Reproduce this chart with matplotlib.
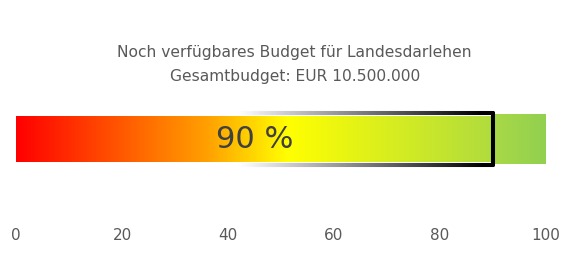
import numpy as np
import matplotlib
matplotlib.use("Agg")
import matplotlib.pyplot as plt
from matplotlib.colors import LinearSegmentedColormap
from matplotlib.collections import LineCollection

# Data
title_lines = ["Noch verfügbares Budget für Landesdarlehen", "Gesamtbudget: EUR 10.500.000"]
total_value = 100
current_value = 90
value_label = "90 %"
xticks = [0, 20, 40, 60, 80, 100]

W, H = 569, 258
fig = plt.figure(figsize=(W / 100, H / 100), dpi=100)
ax_left, ax_right = 16, 546
ax_bottom_px = 222
ax = fig.add_axes([ax_left / W, (H - ax_bottom_px) / H, (ax_right - ax_left) / W, ax_bottom_px / H])
ax.set_xlim(0, total_value)
ax.set_ylim(ax_bottom_px, 0)

# remaining (total - current) bar, light green gradient
gcmap = LinearSegmentedColormap.from_list("gr", ["#A9D947", "#92D050"])
grad = np.linspace(0, 1, 128).reshape(1, -1)
ax.imshow(grad, cmap=gcmap, extent=[current_value, total_value, 164, 114], aspect="auto",
          zorder=1, interpolation="bilinear")

# gradient bar for current value
stops = [(0.0, "#FF0000"), (0.40, "#FFA000"), (0.57, "#FFFF00"), (1.0, "#B0DC3E")]
cmap = LinearSegmentedColormap.from_list("g", stops)
grad = np.linspace(0, 1, 512).reshape(1, -1)
ax.imshow(grad, cmap=cmap, extent=[0, current_value, 162, 116], aspect="auto", zorder=2,
          interpolation="bilinear")

# gradient border
y_top, y_bot = 113.3, 164.7
xs = np.linspace(0, current_value, 400)
path = [(x, y_top) for x in xs] + [(current_value, y) for y in np.linspace(y_top, y_bot, 40)] + \
       [(x, y_bot) for x in xs[::-1]]
segs = [[path[i], path[i + 1]] for i in range(len(path) - 1)]
cols = []
for (p0, p1) in segs:
    xm = (p0[0] + p1[0]) / 2
    t = np.clip((xm - 42) / (88 - 42), 0, 1)
    g = 1 - t
    a = np.clip((xm - 40) / 10, 0, 1)
    cols.append((g, g, g, a))
lc = LineCollection(segs, colors=cols, linewidths=2.9, capstyle="round", joinstyle="round", zorder=3)
ax.add_collection(lc)
ax.set_xlim(0, total_value)
ax.set_ylim(ax_bottom_px, 0)

ax.text(current_value / 2, 139, value_label, ha="center", va="center", fontsize=22,
        color="#404040", family="DejaVu Sans", zorder=4)

fig.text(0.518, 1 - 53 / H, title_lines[0], ha="center", va="center", fontsize=11.2, color="#595959")
fig.text(0.518, 1 - 76 / H, title_lines[1], ha="center", va="center", fontsize=11.2, color="#595959")

ax.set_xticks(xticks)
ax.set_xticklabels([str(t) for t in xticks], fontsize=11, color="#595959")
ax.tick_params(axis="x", length=0, pad=4.5)
ax.set_yticks([])
for s in ax.spines.values():
    s.set_visible(False)
ax.patch.set_alpha(0)

fig.savefig("out.png", dpi=100)
